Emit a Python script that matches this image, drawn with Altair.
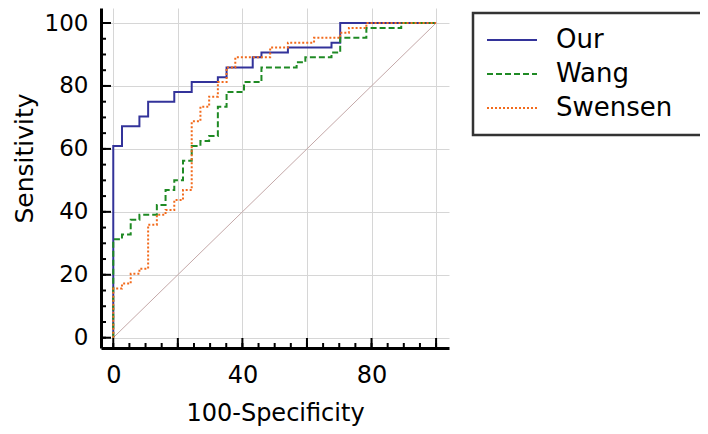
import altair as alt
import pandas as pd

# ---- data (ROC step corners: 100-Specificity, Sensitivity) ----
series_names = ["Our", "Wang", "Swensen"]
series_colors = ["#33339a", "#1f8a24", "#f26b1d"]
series_dashes = [[1, 0], [6, 3], [2, 2]]

our_fpr = [0, 0, 2.7, 8.1, 10.8, 18.9, 24.3, 32.4, 35.1, 43.2, 45.9, 54.1, 67.6, 70.3, 100]
our_tpr = [0, 60.9, 67.2, 70.3, 75.0, 78.1, 81.25, 82.8, 85.9, 89.1, 90.6, 92.2, 93.75, 100, 100]

wang_fpr = [0, 0, 2.7, 5.4, 8.1, 13.5, 16.2, 18.9, 21.6, 24.3, 27.0, 29.7, 32.4, 35.1,
            40.5, 45.9, 56.8, 59.5, 67.6, 70.3, 78.4, 89.2, 100]
wang_tpr = [0, 31.25, 32.8, 37.5, 39.1, 42.2, 46.9, 50.0, 56.25, 60.9, 62.5, 64.1, 73.4, 78.1,
            81.25, 85.9, 87.5, 89.1, 90.6, 95.3, 98.4, 100, 100]

swensen_fpr = [0, 0, 2.7, 5.4, 8.1, 10.8, 13.5, 16.2, 18.9, 21.6, 24.3, 27.0, 29.7, 32.4,
               35.1, 37.8, 48.6, 54.1, 62.2, 70.3, 73.0, 78.4, 100]
swensen_tpr = [0, 15.6, 17.2, 20.3, 21.9, 35.9, 39.1, 40.6, 43.75, 46.9, 68.75, 73.4, 76.6, 81.25,
               85.9, 89.1, 92.2, 93.75, 95.3, 96.9, 98.4, 100, 100]

diag_x = [0, 100]
diag_y = [0, 100]

major_ticks = [0, 20, 40, 60, 80, 100]
minor_ticks = [0, 5, 10, 15, 20, 25, 30, 35, 40, 45, 50, 55, 60, 65, 70, 75, 80, 85, 90, 95, 100]

# ---- tables ----
rows = []
for name, xs, ys in zip(series_names,
                        [our_fpr, wang_fpr, swensen_fpr],
                        [our_tpr, wang_tpr, swensen_tpr]):
    for i, (a, b) in enumerate(zip(xs, ys)):
        rows.append({"series": name, "fpr": a, "tpr": b, "idx": i})
df = pd.DataFrame(rows)
diag = pd.DataFrame({"fpr": diag_x, "tpr": diag_y})
major_df = pd.DataFrame({"fpr": major_ticks, "tpr": major_ticks})
minor_df = pd.DataFrame({"fpr": minor_ticks, "tpr": minor_ticks})

FONT = "DejaVu Sans"
W, H = 348, 340

xscale = alt.Scale(domain=[-3.8, 104], nice=False, zero=False)
yscale = alt.Scale(domain=[-3.27, 104.77], nice=False, zero=False)

x_axis = alt.Axis(values=major_ticks, title="100-Specificity", grid=True, gridColor="#d6d6d6",
                  gridWidth=1, ticks=False, tickSize=0, domainColor="black", domainWidth=3,
                  labelExpr="datum.value % 40 == 0 ? datum.label : ''",
                  labelFont=FONT, labelFontSize=24, labelColor="black", labelPadding=15,
                  labelFlush=False, labelOverlap=False,
                  titleFont=FONT, titleFontSize=24, titleFontWeight="normal", titleColor="black",
                  titleY=72, titleBaseline="alphabetic")
y_axis = alt.Axis(values=major_ticks, title="Sensitivity", grid=True, gridColor="#d6d6d6",
                  gridWidth=1, ticks=False, tickSize=0, domainColor="black", domainWidth=3,
                  labelFont=FONT, labelFontSize=23, labelColor="black", labelPadding=13,
                  labelFlush=False, labelOverlap=False,
                  titleFont=FONT, titleFontSize=25, titleFontWeight="normal", titleColor="black",
                  titleX=-69, titleY=150, titleAngle=270, titleBaseline="alphabetic")

X = alt.X("fpr:Q", scale=xscale, axis=x_axis)
Y = alt.Y("tpr:Q", scale=yscale, axis=y_axis)

base = alt.Chart(diag).mark_line(color="#c4a8a8", strokeWidth=1).encode(x=X, y=Y)

legend = alt.Legend(title=None, orient="none", legendX=372, legendY=5,
                    symbolType="M-5,0H5M39,0L39,0", symbolSize=100, symbolStrokeWidth=2,
                    symbolOffset=12,
                    labelFont=FONT, labelFontSize=26, labelColor="black", labelOffset=31,
                    padding=14, rowPadding=8, strokeColor="#333333", fillColor="white")

color = alt.Color("series:N", scale=alt.Scale(domain=series_names, range=series_colors), legend=legend)
dash = alt.StrokeDash("series:N", scale=alt.Scale(domain=series_names, range=series_dashes), legend=legend)

curves = []
for name in series_names:
    curves.append(
        alt.Chart(df).transform_filter(alt.datum.series == name)
        .mark_line(strokeWidth=2, interpolate="step-after")
        .encode(x=X, y=Y, order=alt.Order("idx:Q"), color=color, strokeDash=dash)
    )

xt_minor = alt.Chart(minor_df).mark_rule(color="black", strokeWidth=2).encode(
    x=X, y=alt.value(H), y2=alt.value(H - 5))
xt_major = alt.Chart(major_df).mark_rule(color="black", strokeWidth=2).encode(
    x=X, y=alt.value(H), y2=alt.value(H - 10))
yt_minor = alt.Chart(minor_df).mark_rule(color="black", strokeWidth=2).encode(
    y=Y, x=alt.value(0), x2=alt.value(5))
yt_major = alt.Chart(major_df).mark_rule(color="black", strokeWidth=2).encode(
    y=Y, x=alt.value(0), x2=alt.value(10))

chart = alt.layer(base, *curves, xt_minor, xt_major, yt_minor, yt_major).properties(
    width=W, height=H,
    autosize=alt.AutoSizeParams(type="none"),
    padding={"left": 93, "top": 0, "right": 251, "bottom": 78},
).configure_view(stroke=None).configure_legend(strokeWidth=2.5)

chart.save("out.html", embed_options={"renderer": "svg", "actions": False})
